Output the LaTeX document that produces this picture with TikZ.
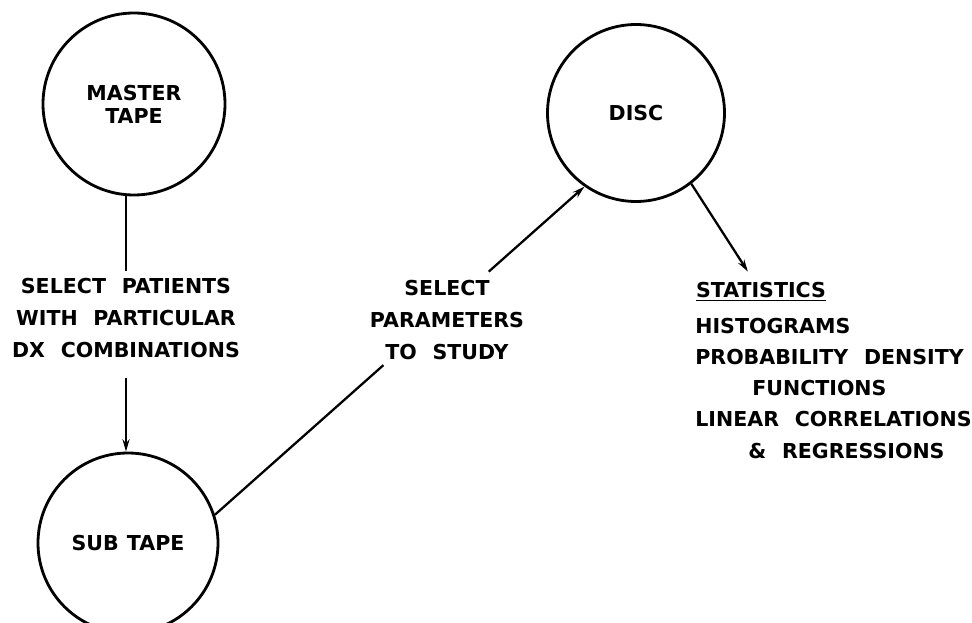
\documentclass[tikz,border=0pt]{standalone}
\usepackage{fontspec}
\setmainfont{DejaVu Sans}[WordSpace=2.2]
\usetikzlibrary{
    arrows.meta,
    calc,
}

\begin{document}
\begin{tikzpicture}[
    x=0.2mm, y=-0.2mm,
    >={Stealth[length=7pt, width=4pt]},
    store/.style={circle, draw, line width=1.6pt, inner sep=0pt, align=center,
        font=\fontsize{11.7}{13}\selectfont\bfseries},
    note/.style={align=center, inner sep=0pt,
        font=\fontsize{11.7}{18.4}\selectfont\bfseries},
    flow/.style={line width=1.3pt},
    ]

    \useasboundingbox (0,0) rectangle (972,623);

    % tapes and disc
    \node[store, minimum size=3.64cm] (master) at (134,104) {MASTER\\TAPE};
    \node[store, minimum size=3.54cm] (disc) at (636,113) {DISC};
    \node[store, minimum size=3.60cm] (sub) at (128,543) {SUB\hspace{.4em}TAPE};

    % what happens on the way
    \node[note] (patients) at (126,318) {SELECT PATIENTS\\WITH PARTICULAR\\DX COMBINATIONS};
    \node[note] (params) at (447,320) {SELECT\\PARAMETERS\\TO STUDY};
    \node[note, inner sep=6pt] (stathead) at (761,292) {\underline{STATISTICS}};
    \node[note, align=left, anchor=north west, font=\fontsize{11.7}{17.8}\selectfont\bfseries]
        (statlist) at (695,317.5) {HISTOGRAMS\\PROBABILITY DENSITY\\\hspace{2.77em}FUNCTIONS\\LINEAR CORRELATIONS\\\hspace{2.58em}\& REGRESSIONS};

    % master -> sub, broken by its label
    \draw[flow] (master.south -| patients) -- ([yshift=4pt]patients.north);
    \draw[flow, ->] ([yshift=-11pt]patients.south) -- (sub.north -| patients);

    % sub -> disc, broken by its label
    \coordinate (gaplo) at ($(sub.18)!0.456!(disc.235)$);
    \coordinate (gaphi) at ($(sub.18)!0.741!(disc.235)$);
    \draw[flow] (sub.18) -- (gaplo);
    \draw[flow, ->] (gaphi) -- (disc.235);

    \draw[flow, ->] (disc.308) -- (stathead);

\end{tikzpicture}
\end{document}
